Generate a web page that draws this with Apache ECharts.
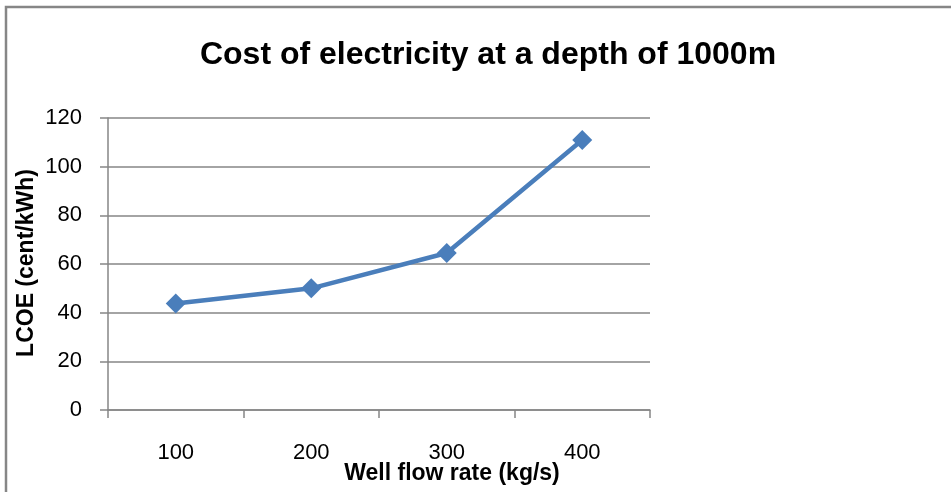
<!DOCTYPE html>
<html><head><meta charset="utf-8">
<script src="https://cdn.jsdelivr.net/npm/echarts@6/dist/echarts.min.js"></script>
<style>html,body{margin:0;padding:0;background:#fff}#c{width:951px;height:492px}</style>
</head><body><div id="c"></div>
<script>
const categories = ['100', '200', '300', '400'];
const lcoe = [43.8, 50, 64.5, 111];
const yTicks = {min: 0, max: 120, interval: 20};
const titleText = 'Cost of electricity at a depth of 1000m';
const xTitle = 'Well flow rate (kg/s)';
const yTitle = 'LCOE (cent/kWh)';

const chart = echarts.init(document.getElementById('c'));
const font = 'Liberation Sans';
chart.setOption({
  animation: false,
  backgroundColor: '#fff',
  title: {
    text: titleText,
    left: 483, top: 34, textAlign: 'center',
    textStyle: {fontFamily: font, fontWeight: 'bold', fontSize: 32, color: '#000'}
  },
  graphic: [{
    type: 'rect', shape: {x: 6, y: 7, width: 1000, height: 1000},
    style: {fill: 'none', stroke: '#868686', lineWidth: 2.5}, silent: true
  }, {
    type: 'text', x: 452, y: 474,
    style: {text: xTitle, fontFamily: font, fontWeight: 'bold', fontSize: 23, fill: '#000',
            textAlign: 'center', textVerticalAlign: 'middle'}
  }, {
    type: 'text', x: 27, y: 263, rotation: Math.PI / 2,
    style: {text: yTitle, fontFamily: font, fontWeight: 'bold', fontSize: 23, fill: '#000',
            textAlign: 'center', textVerticalAlign: 'middle'}
  }],
  grid: {left: 108, right: 301, top: 118, bottom: 82},
  xAxis: {
    type: 'category', data: categories, boundaryGap: true,
    axisLine: {lineStyle: {color: '#868686', width: 1.5}},
    axisTick: {show: true, length: 8, lineStyle: {color: '#868686', width: 1.5}},
    axisLabel: {fontFamily: font, fontSize: 22, color: '#000', margin: 32}
  },
  yAxis: {
    type: 'value', min: yTicks.min, max: yTicks.max, interval: yTicks.interval,
    axisLine: {show: true, lineStyle: {color: '#868686', width: 1.5}},
    axisTick: {show: true, length: 8, lineStyle: {color: '#868686', width: 1.5}},
    splitLine: {lineStyle: {color: '#868686', width: 1.5}},
    axisLabel: {fontFamily: font, fontSize: 22, color: '#000', margin: 26}
  },
  series: [{
    type: 'line', data: lcoe,
    lineStyle: {color: '#4a7ebb', width: 4.5},
    itemStyle: {color: '#4a7ebb'},
    symbol: 'diamond', symbolSize: 20, showSymbol: true
  }]
});
</script></body></html>
